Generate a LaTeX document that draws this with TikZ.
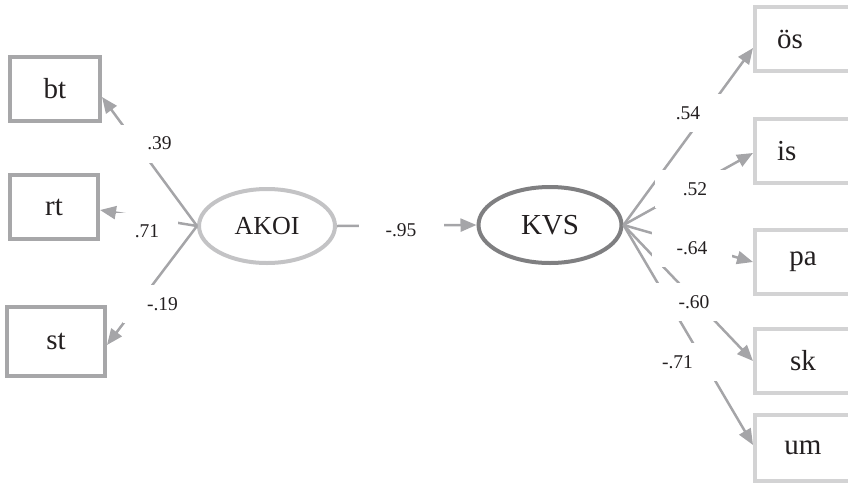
\documentclass[tikz,border=0pt]{standalone}
\usepackage{fontspec}
\setmainfont{Liberation Serif}
\usetikzlibrary{arrows.meta,shapes.geometric}
\definecolor{boxdark}{HTML}{A7A7A9}
\definecolor{boxlight}{HTML}{D3D3D4}
\definecolor{akoigray}{HTML}{C3C3C5}
\definecolor{kvsgray}{HTML}{7F7F81}
\definecolor{loadgray}{HTML}{A5A5A8}
\definecolor{ink}{HTML}{231F20}
\begin{document}
\begin{tikzpicture}[x=1pt,y=-1pt,
	obs/.style={shape=rectangle, line width=4pt, inner sep=0pt, minimum width=90pt, minimum height=64pt, text=ink, font=\fontsize{29}{29}\selectfont},
	lat/.style={shape=ellipse, line width=4pt, inner sep=0pt, text=ink},
	coef/.style={fill=white, inner sep=0pt, minimum width=80pt, minimum height=38pt, text=ink, font=\fontsize{19.5}{19.5}\selectfont},
	load/.style={draw=loadgray, line width=2.5pt, -{Triangle[length=16pt,width=13pt]}}]
	\useasboundingbox (0,0) rectangle (848,485);

	\draw (55,88.5) node[obs, draw=boxdark](bt){bt};
	\draw (54,207) node[obs, draw=boxdark, minimum width=88pt](rt){rt};
	\draw (56,341.5) node[obs, draw=boxdark, minimum width=98pt, minimum height=69pt](st){st};

	\draw (267,226) node[lat, draw=akoigray, minimum width=136pt, minimum height=74pt, font=\fontsize{26}{26}\selectfont](AKOI){AKOI};
	\draw (550,225) node[lat, draw=kvsgray, minimum width=143pt, minimum height=76pt, font=\fontsize{29}{29}\selectfont](KVS){KVS};

	\draw (803,39) node[obs, draw=boxlight, minimum width=96pt, text width=52pt, align=left](os){ös};
	\draw (803,151) node[obs, draw=boxlight, minimum width=96pt, text width=52pt, align=left](is){is};
	\draw (803,262) node[obs, draw=boxlight, minimum width=96pt](pa){pa};
	\draw (803,361) node[obs, draw=boxlight, minimum width=96pt](sk){sk};
	\draw (803,448) node[obs, draw=boxlight, minimum width=96pt, minimum height=66pt](um){um};

	\draw[load] (AKOI.west) -- ([yshift=-8.5pt]bt.east);
	\draw[load] (AKOI.west) -- ([yshift=-3pt]rt.east);
	\draw[load] (AKOI.west) -- ([yshift=-3.5pt]st.east);
	\draw[load] (AKOI.east) -- (KVS.west);
	\draw[load] (KVS.east) -- ([yshift=-9pt]os.west);
	\draw[load] (KVS.east) -- ([yshift=-2pt]is.west);
	\draw[load] (KVS.east) -- (pa.west);
	\draw[load] (KVS.east) -- (sk.west);
	\draw[load] (KVS.east) -- ([yshift=3pt]um.west);

	\draw (159.5,143.5) node[coef](cbt){.39};
	\draw (147,231) node[coef, minimum width=62pt, minimum height=36pt](crt){.71};
	\draw (162.5,304) node[coef](cst){-.19};
	\draw (401,230) node[coef, minimum width=85pt](cKVS){-.95};
	\draw (688,113) node[coef](cos){.54};
	\draw (695,189) node[coef](cis){.52};
	\draw (692,248) node[coef](cpa){-.64};
	\draw (694,302) node[coef](csk){-.60};
	\draw (677.5,362) node[coef](cum){-.71};
\end{tikzpicture}
\end{document}
